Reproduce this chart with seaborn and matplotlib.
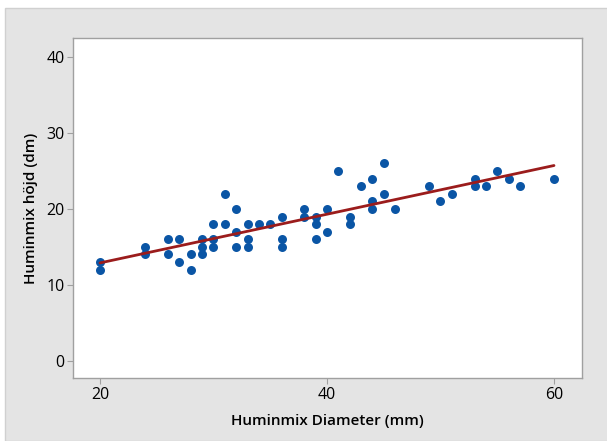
import pandas as pd
import matplotlib.pyplot as plt
import seaborn as sns
from matplotlib.patches import Rectangle

# data
diameter = [20, 20, 24, 24, 26, 26, 27, 27, 28, 28,
            29, 29, 29, 30, 30, 30, 31, 31, 32, 32, 32,
            33, 33, 33, 34, 35, 36, 36, 36, 38, 38,
            39, 39, 39, 40, 40, 41, 42, 42, 43,
            44, 44, 44, 45, 45, 46, 49, 50, 51,
            53, 53, 54, 55, 56, 57, 60]
hojd = [13, 12, 15, 14, 16, 14, 16, 13, 14, 12,
        16, 15, 14, 18, 16, 15, 22, 18, 20, 17, 15,
        18, 16, 15, 18, 18, 19, 16, 15, 20, 19,
        19, 18, 16, 20, 17, 25, 19, 18, 23,
        24, 21, 20, 26, 22, 20, 23, 21, 22,
        24, 23, 23, 25, 24, 23, 24]

x_ticks = [20, 40, 60]
y_ticks = [0, 10, 20, 30, 40]

df = pd.DataFrame({'diameter': diameter, 'hojd': hojd})

sns.set_style('white')
plt.rcParams['font.family'] = ['Open Sans', 'DejaVu Sans']
plt.rcParams['text.color'] = 'black'
plt.rcParams['axes.labelcolor'] = 'black'

fig = plt.figure(figsize=(6.07, 4.41), dpi=100)
fig.patch.set_facecolor('white')
# grey panel behind the plot
fig.add_artist(Rectangle((5 / 607, 0), 1, 1 - 8 / 441, transform=fig.transFigure,
                         facecolor='#e4e4e4', edgecolor='#d0d0d0', linewidth=1, zorder=-1))

ax = fig.add_axes([0.1198, 0.1422, 0.8385, 0.7716])
ax.set_facecolor('white')

sns.regplot(data=df, x='diameter', y='hojd', ci=None, ax=ax,
            scatter_kws={'color': '#0a55a5', 's': 42, 'alpha': 1, 'linewidths': 0},
            line_kws={'color': '#9b1c1c', 'linewidth': 2})

ax.set_xlim(17.6, 62.44)
ax.set_ylim(-2.32, 42.54)
ax.set_xticks(x_ticks)
ax.set_yticks(y_ticks)
ax.tick_params(axis='both', length=4, width=0.8, color='#a0a0a0', labelsize=11.5, pad=2,
               labelcolor='black', bottom=True, left=True)
for s in ax.spines.values():
    s.set_color('#a0a0a0')
    s.set_linewidth(1)

ax.set_xlabel('Huminmix Diameter (mm)', fontsize=11, fontweight='semibold', labelpad=8)
ax.set_ylabel('Huminmix höjd (dm)', fontsize=11, fontweight='semibold', labelpad=6)

fig.savefig('out.png', dpi=100)
